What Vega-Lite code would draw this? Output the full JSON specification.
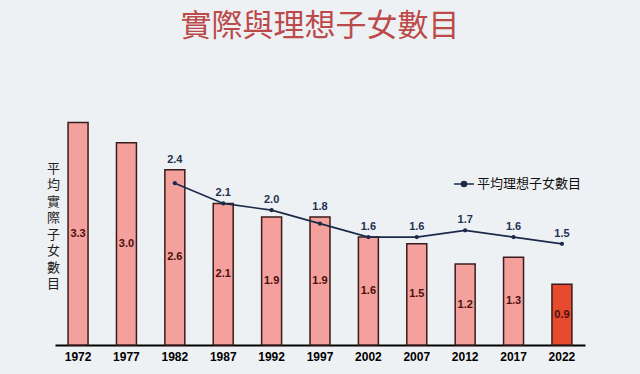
{
  "$schema": "https://vega.github.io/schema/vega-lite/v6.json",
  "autosize": "none",
  "width": 530,
  "height": 236,
  "padding": {"left": 55, "top": 109, "right": 55, "bottom": 29},
  "background": "#eef1f4",
  "config": {"view": {"stroke": null}},
  "title": {
    "text": "實際與理想子女數目",
    "font": "Noto Sans CJK TC",
    "fontSize": 31,
    "fontWeight": "normal",
    "color": "#bc4a4a",
    "anchor": "middle",
    "offset": 66
  },
  "data": {
    "values": [
      {"year": "1972", "actual": 3.3, "ideal": null},
      {"year": "1977", "actual": 3.0, "ideal": null},
      {"year": "1982", "actual": 2.6, "ideal": 2.4},
      {"year": "1987", "actual": 2.1, "ideal": 2.1},
      {"year": "1992", "actual": 1.9, "ideal": 2.0},
      {"year": "1997", "actual": 1.9, "ideal": 1.8},
      {"year": "2002", "actual": 1.6, "ideal": 1.6},
      {"year": "2007", "actual": 1.5, "ideal": 1.6},
      {"year": "2012", "actual": 1.2, "ideal": 1.7},
      {"year": "2017", "actual": 1.3, "ideal": 1.6},
      {"year": "2022", "actual": 0.9, "ideal": 1.5}
    ]
  },
  "transform": [
    {"calculate": "datum.actual / 2", "as": "half"},
    {"calculate": "datum.ideal == null ? datum.actual : max(datum.actual, datum.ideal)", "as": "top"}
  ],
  "encoding": {
    "x": {
      "field": "year",
      "type": "nominal",
      "sort": null,
      "scale": {"paddingInner": 0.587, "paddingOuter": 0.27},
      "axis": {
        "title": null,
        "labelAngle": 0,
        "ticks": false,
        "domainColor": "#000000",
        "domainWidth": 2,
        "labelFont": "Liberation Sans",
        "labelFontWeight": "bold",
        "labelFontSize": 12,
        "labelColor": "#000000",
        "labelPadding": 6
      }
    }
  },
  "layer": [
    {
      "mark": {"type": "bar", "stroke": "#3a1c1c", "strokeWidth": 1.5},
      "encoding": {
        "y": {
          "field": "actual",
          "type": "quantitative",
          "scale": {"domain": [0, 3.5], "nice": false},
          "axis": {
            "title": ["平", "均", "實", "際", "子", "女", "數", "目"],
            "titleAngle": 0,
            "titleX": -2,
            "titleY": 53,
            "titleAlign": "center",
            "titleBaseline": "top",
            "titleLineHeight": 16.5,
            "titleFont": "Noto Sans CJK TC",
            "titleFontSize": 13,
            "titleFontWeight": "normal",
            "titleColor": "#222222",
            "labels": false,
            "ticks": false,
            "domain": false,
            "grid": false
          }
        },
        "fill": {
          "condition": {"test": "datum.year == '2022'", "value": "#e84a2e"},
          "value": "#f4a09c"
        }
      }
    },
    {
      "mark": {"type": "text", "font": "Liberation Sans", "fontWeight": "bold", "fontSize": 11, "color": "#4a1010", "baseline": "middle"},
      "encoding": {
        "y": {"field": "half", "type": "quantitative"},
        "text": {"field": "actual", "type": "quantitative", "format": ".1f"}
      }
    },
    {
      "transform": [{"filter": "datum.ideal != null"}],
      "mark": {"type": "line", "strokeWidth": 1.6, "point": {"filled": true, "size": 18}},
      "encoding": {
        "y": {"field": "ideal", "type": "quantitative"},
        "color": {
          "datum": "平均理想子女數目",
          "scale": {"range": ["#1c2a4a"]},
          "legend": {
            "title": null,
            "orient": "none",
            "legendX": 398,
            "legendY": 64,
            "symbolType": "M-1,0L1,0M0,-0.25A0.25,0.25 0 1,1 0,0.25A0.25,0.25 0 1,1 0,-0.25Z",
            "symbolSize": 400,
            "symbolStrokeWidth": 1.6,
            "symbolFillColor": "#1c2a4a",
            "symbolStrokeColor": "#1c2a4a",
            "labelFont": "Noto Sans CJK TC",
            "labelFontSize": 13,
            "labelColor": "#111111",
            "labelOffset": 2
          }
        }
      }
    },
    {
      "transform": [{"filter": "datum.ideal != null"}],
      "mark": {"type": "text", "font": "Liberation Sans", "fontWeight": "bold", "fontSize": 11, "color": "#1f3050", "baseline": "bottom", "dy": -5},
      "encoding": {
        "y": {"field": "top", "type": "quantitative"},
        "text": {"field": "ideal", "type": "quantitative", "format": ".1f"}
      }
    }
  ]
}
